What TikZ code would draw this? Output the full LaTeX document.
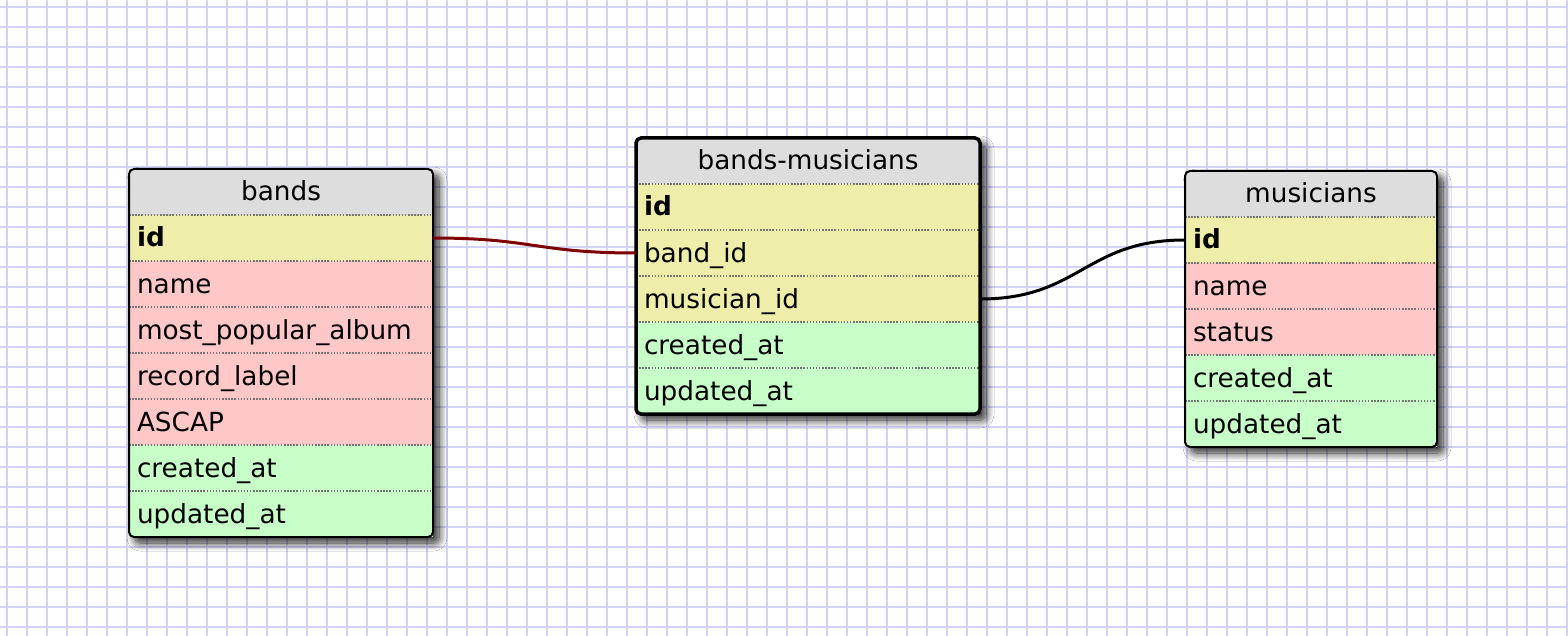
\documentclass[tikz,border=0pt]{standalone}
\usepackage{fontspec}
\setmainfont{DejaVu Sans}
\usetikzlibrary{positioning,backgrounds,shadows.blur}

\definecolor{headgray}{RGB}{221,221,221}
\definecolor{keyyellow}{RGB}{238,238,170}
\definecolor{strpink}{RGB}{255,200,200}
\definecolor{datgreen}{RGB}{200,255,200}
\definecolor{gridblue}{RGB}{210,210,246}
\definecolor{reldark}{RGB}{128,0,0}
\definecolor{sepgray}{RGB}{115,115,115}

\newcommand\fieldfont{\fontsize{26.3}{30}\selectfont}

\tikzset{
  cell/.style={minimum height=46pt, inner xsep=8pt, inner ysep=0pt, outer sep=0pt,
    text width=#1, text height=21pt, text depth=3pt, font=\fieldfont},
  head/.style={cell=#1, fill=headgray, align=center, anchor=north west},
  pk/.style={fill=keyyellow},
  str/.style={fill=strpink},
  dat/.style={fill=datgreen},
  sep/.style={draw=sepgray, line width=1.5pt, dash pattern=on 1.5pt off 1.6pt},
  frame/.style={draw=black, line width=2pt, rounded corners=5pt},
  tblshadow/.style={fill=white, rounded corners=5pt,
    blur shadow={shadow xshift=6pt, shadow yshift=-6pt, shadow blur radius=8pt,
      shadow blur steps=12, shadow opacity=85}},
  rel/.style={line width=3pt},
  gridline/.style={draw=gridblue, line width=2pt}
}

\begin{document}
\begin{tikzpicture}[x=1pt,y=-1pt]
  \useasboundingbox (0,0) rectangle (1568,636);

  % bands
  \node[head=288pt] (bh) at (129,169) {bands};
  \node[cell=288pt, pk, below=0pt of bh] (b1) {\textbf{id}};
  \node[cell=288pt, str, below=0pt of b1] (b2) {name};
  \node[cell=288pt, str, below=0pt of b2] (b3) {most\_popular\_album};
  \node[cell=288pt, str, below=0pt of b3] (b4) {record\_label};
  \node[cell=288pt, str, below=0pt of b4] (b5) {ASCAP};
  \node[cell=288pt, dat, below=0pt of b5] (b6) {created\_at};
  \node[cell=288pt, dat, below=0pt of b6] (b7) {updated\_at};

  % bands-musicians
  \node[head=328pt] (mh) at (636,138) {bands-musicians};
  \node[cell=328pt, pk, below=0pt of mh] (m1) {\textbf{id}};
  \node[cell=328pt, pk, below=0pt of m1] (m2) {band\_id};
  \node[cell=328pt, pk, below=0pt of m2] (m3) {musician\_id};
  \node[cell=328pt, dat, below=0pt of m3] (m4) {created\_at};
  \node[cell=328pt, dat, below=0pt of m4] (m5) {updated\_at};

  % musicians
  \node[head=236pt] (uh) at (1185,171) {musicians};
  \node[cell=236pt, pk, below=0pt of uh] (u1) {\textbf{id}};
  \node[cell=236pt, str, below=0pt of u1] (u2) {name};
  \node[cell=236pt, str, below=0pt of u2] (u3) {status};
  \node[cell=236pt, dat, below=0pt of u3] (u4) {created\_at};
  \node[cell=236pt, dat, below=0pt of u4] (u5) {updated\_at};

  \foreach \r in {bh,b1,b2,b3,b4,b5,b6,mh,m1,m2,m3,m4,uh,u1,u2,u3,u4}
    \draw[sep] (\r.south west) -- (\r.south east);

  \begin{pgfonlayer}{background}
    % grid paper
    \fill[white] (0,0) rectangle (1568,636);
    \foreach \k in {0,...,78}
      \draw[gridline] ({7+20*\k},0) -- ({7+20*\k},636);
    \foreach \k in {0,...,31}
      \draw[gridline] (0,{7+20*\k}) -- (1568,{7+20*\k});
    \path[tblshadow] (bh.north west) rectangle (b7.south east);
    \path[tblshadow] (mh.north west) rectangle (m5.south east);
    \path[tblshadow] (uh.north west) rectangle (u5.south east);
  \end{pgfonlayer}
  \draw[frame] (bh.north west) rectangle (b7.south east);
  \draw[frame, line width=3.5pt] (mh.north west) rectangle (m5.south east);
  \draw[frame] (uh.north west) rectangle (u5.south east);

  % relations
  \draw[rel, reldark] (b1.east) .. controls +(100,0) and +(-100,0) .. (m2.west);
  \draw[rel, black] (m3.east) .. controls +(100,0) and +(-100,0) .. (u1.west);
\end{tikzpicture}
\end{document}
